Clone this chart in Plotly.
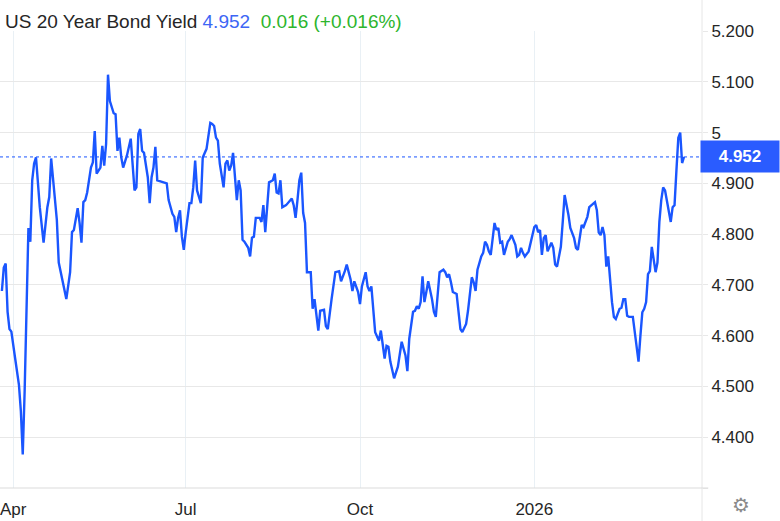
import pandas as pd
import plotly.graph_objects as go

# ---------------- data ----------------
start_date = "2025-03-25"
day_offsets = [
    1, 2, 3, 4, 5, 6, 8, 10, 11, 12, 13, 14, 15, 16, 17, 18, 19, 21, 23, 25,
    26, 27, 28, 30, 31, 33, 35, 37, 38, 39, 41, 42, 43, 44, 45, 46, 48, 49, 50, 51,
    53, 54, 55, 56, 57, 58, 60, 61,
    62, 63, 64, 65, 67, 69, 71, 72, 73, 74, 75, 76, 78, 79, 80, 81, 82, 83, 85, 88,
    89, 91, 92, 93, 94, 95, 96, 97, 98, 100, 101, 102, 103, 104, 106, 107, 109, 111, 112, 113,
    114, 115, 116, 118, 119, 120, 121,
    122, 123, 124, 125, 126, 127, 128, 129, 131, 132, 133, 134, 135, 137, 138, 139, 140, 141, 142, 144,
    145, 146, 147, 148, 149, 151, 152, 154, 155, 156, 157, 158, 159, 160, 161, 162, 164, 165, 166, 167,
    168, 169, 171, 172, 173, 175, 177, 179, 180, 182, 183,
    185, 186, 187, 189, 190, 191, 193, 194, 195, 196, 198, 199, 200, 201, 203, 204, 205, 206, 208, 210,
    211, 212, 214, 215, 216, 218, 219, 220, 221, 222, 223, 224, 225, 226, 228, 229, 230, 231, 232, 234,
    235, 236, 237, 238, 239, 241, 242, 243,
    244, 246, 247, 249, 250, 251, 252, 254, 255, 256, 257, 258, 259, 261, 262, 263, 264, 265, 266, 268,
    269, 270, 272, 273, 274, 275, 276, 277, 279, 280, 281, 282, 283, 284, 285, 286, 287, 288, 289, 290,
    291, 292, 293, 294, 296, 297, 298, 300, 301, 303, 304,
    305, 306, 307, 308, 309, 310, 311, 312, 314, 315, 316, 317, 318, 319, 320, 321, 322, 323, 324, 325,
    327, 328, 329, 330, 331, 332, 334, 335, 336, 337, 338, 339, 340, 341, 342, 343, 344, 346, 347, 348,
    349, 350, 351, 353, 354, 355, 356, 357, 358, 359, 360, 361,
]
yields = [
    4.688, 4.734, 4.742, 4.647, 4.613, 4.608, 4.555, 4.503, 4.452, 4.366,
    4.49, 4.686, 4.812, 4.785, 4.906, 4.939, 4.951, 4.853, 4.783, 4.853,
    4.873, 4.949, 4.912, 4.828, 4.744, 4.711, 4.672, 4.725, 4.804, 4.808,
    4.851, 4.822, 4.783, 4.863, 4.867, 4.882, 4.931, 4.941, 5.003, 4.919,
    4.931, 4.974, 4.935, 4.978, 5.114, 5.062, 5.038, 5.036,
    4.964, 4.99, 4.951, 4.931, 4.955, 4.988, 4.886, 4.892, 4.997, 5.007,
    4.964, 4.96, 4.912, 4.861, 4.912, 4.931, 4.972, 4.906, 4.904, 4.9,
    4.867, 4.84, 4.834, 4.804, 4.832, 4.847, 4.795, 4.769, 4.803, 4.861,
    4.861, 4.892, 4.945, 4.886, 4.861, 4.951, 4.968, 5.019, 5.017, 5.013,
    4.99, 4.984, 4.939, 4.892, 4.939, 4.945, 4.925,
    4.935, 4.96, 4.91, 4.867, 4.906, 4.886, 4.789, 4.785, 4.773, 4.756,
    4.793, 4.795, 4.832, 4.832, 4.824, 4.857, 4.804, 4.857, 4.902, 4.906,
    4.919, 4.882, 4.88, 4.906, 4.853, 4.857, 4.861, 4.87, 4.857, 4.832,
    4.867, 4.906, 4.921, 4.842, 4.822, 4.725, 4.725, 4.653, 4.672, 4.639,
    4.61, 4.649, 4.651, 4.619, 4.613, 4.672, 4.725, 4.727, 4.707, 4.727,
    4.74,
    4.711, 4.688, 4.707, 4.686, 4.662, 4.697, 4.725, 4.697, 4.688, 4.697,
    4.607, 4.6, 4.59, 4.61, 4.555, 4.58, 4.578, 4.549, 4.516, 4.539,
    4.561, 4.588, 4.561, 4.53, 4.594, 4.647, 4.649, 4.658, 4.653, 4.666,
    4.717, 4.666, 4.686, 4.707, 4.672, 4.647, 4.637, 4.686, 4.725, 4.73,
    4.725, 4.715, 4.721, 4.705, 4.686, 4.682, 4.647, 4.613,
    4.607, 4.623, 4.649, 4.715, 4.705, 4.688, 4.73, 4.756, 4.763, 4.785,
    4.779, 4.766, 4.759, 4.822, 4.808, 4.812, 4.783, 4.785, 4.759, 4.785,
    4.79, 4.798, 4.779, 4.756, 4.759, 4.773, 4.763, 4.756, 4.766, 4.783,
    4.798, 4.814, 4.818, 4.804, 4.808, 4.759, 4.792, 4.798, 4.766, 4.773,
    4.783, 4.773, 4.74, 4.736, 4.775, 4.824, 4.877, 4.838, 4.812, 4.792,
    4.773,
    4.769, 4.795, 4.818, 4.814, 4.824, 4.834, 4.853, 4.857, 4.863, 4.847,
    4.803, 4.798, 4.814, 4.798, 4.736, 4.756, 4.705, 4.666, 4.637, 4.633,
    4.653, 4.655, 4.672, 4.672, 4.639, 4.637, 4.637, 4.61, 4.58, 4.549,
    4.6, 4.646, 4.653, 4.666, 4.721, 4.727, 4.775, 4.725, 4.744, 4.824,
    4.867, 4.892, 4.886, 4.847, 4.824, 4.853, 4.857, 4.925, 4.99, 5.0,
    4.94, 4.952,
]
last_value = 4.952
change_text = "0.016 (+0.016%)"
title_text = "US 20 Year Bond Yield"

y_tick_vals = [4.3, 4.4, 4.5, 4.6, 4.7, 4.8, 4.9, 5.0, 5.1, 5.2]
y_tick_text = ["", "4.400", "4.500", "4.600", "4.700", "4.800", "4.900", "5", "5.100", "5.200"]
x_tick_vals = ["2025-04-01", "2025-07-01", "2025-10-01", "2026-01-01"]
x_tick_text = ["Apr", "Jul", "Oct", "2026"]
x_range = ["2025-03-25", "2026-03-30 12:00"]
y_range = [4.3, 5.2]

# ---------------- figure ----------------
dates = pd.Timestamp(start_date) + pd.to_timedelta(day_offsets, unit="D")

LINE_BLUE = "#1a56ff"
FONT = "Liberation Sans, Arial, Helvetica, sans-serif"
TEXT = "#262626"

fig = go.Figure()
fig.add_trace(go.Scatter(
    x=dates, y=yields, mode="lines",
    line=dict(color=LINE_BLUE, width=2.4),
    hoverinfo="x+y", showlegend=False,
))

fig.update_layout(
    width=780, height=521,
    margin=dict(l=0, r=78, t=31, b=33),
    paper_bgcolor="white", plot_bgcolor="white",
    font=dict(family=FONT, size=17, color=TEXT),
    showlegend=False,
    xaxis=dict(
        range=x_range, tickvals=x_tick_vals, ticktext=x_tick_text,
        showgrid=True, gridcolor="#e9f0f5", gridwidth=1,
        zeroline=False, showline=False, ticks="",
        ticklabelstandoff=9,
        tickfont=dict(size=17, color=TEXT),
        fixedrange=True,
    ),
    yaxis=dict(
        range=y_range, side="right", tickvals=y_tick_vals, ticktext=y_tick_text,
        showgrid=True, gridcolor="#e8e8e8", gridwidth=1,
        zeroline=False, showline=False,
        ticks="outside", ticklen=5, tickcolor="#e8e8e8",
        tickfont=dict(size=17, color=TEXT),
        fixedrange=True,
    ),
    shapes=[
        # dotted last-value line
        dict(type="line", xref="paper", yref="y", x0=0, x1=1,
             y0=last_value, y1=last_value,
             line=dict(color=LINE_BLUE, width=1, dash="dot")),
        # right divider
        dict(type="line", xref="paper", yref="paper", x0=1, x1=1,
             y0=-0.075, y1=1.07, line=dict(color="#e6e6e6", width=1)),
        # bottom axis line
        dict(type="line", xref="paper", yref="paper", x0=0, x1=1.009,
             y0=0, y1=0, line=dict(color="#dcdcdc", width=1.2)),
    ],
    annotations=[
        dict(xref="paper", yref="paper", x=0.004, y=1.0,
             yshift=10, xanchor="left", yanchor="middle", showarrow=False,
             text=(f"{title_text} <span style='color:#3d66f5'>{last_value:.3f}</span>"
                   f"&nbsp;&nbsp;<span style='color:#2db52d'>{change_text}</span>"),
             font=dict(size=19, color=TEXT, family=FONT)),
        dict(xref="paper", yref="y", x=1, y=last_value, xshift=-2,
             xanchor="left", yanchor="middle", showarrow=False,
             text=f"<b>{last_value:.3f}</b>", bgcolor="#2a5cff",
             width=72, height=25, borderpad=3, align="center",
             font=dict(size=17, color="white", family=FONT)),
        dict(xref="paper", yref="paper", x=1.055, y=-0.038,
             xanchor="center", yanchor="middle", showarrow=False,
             text="⚙", font=dict(size=20, color="#8a8a8a", family="DejaVu Sans")),
    ],
)

fig.write_html("out.html", config={"displayModeBar": False},
               post_script="document.body.style.margin='0';")
